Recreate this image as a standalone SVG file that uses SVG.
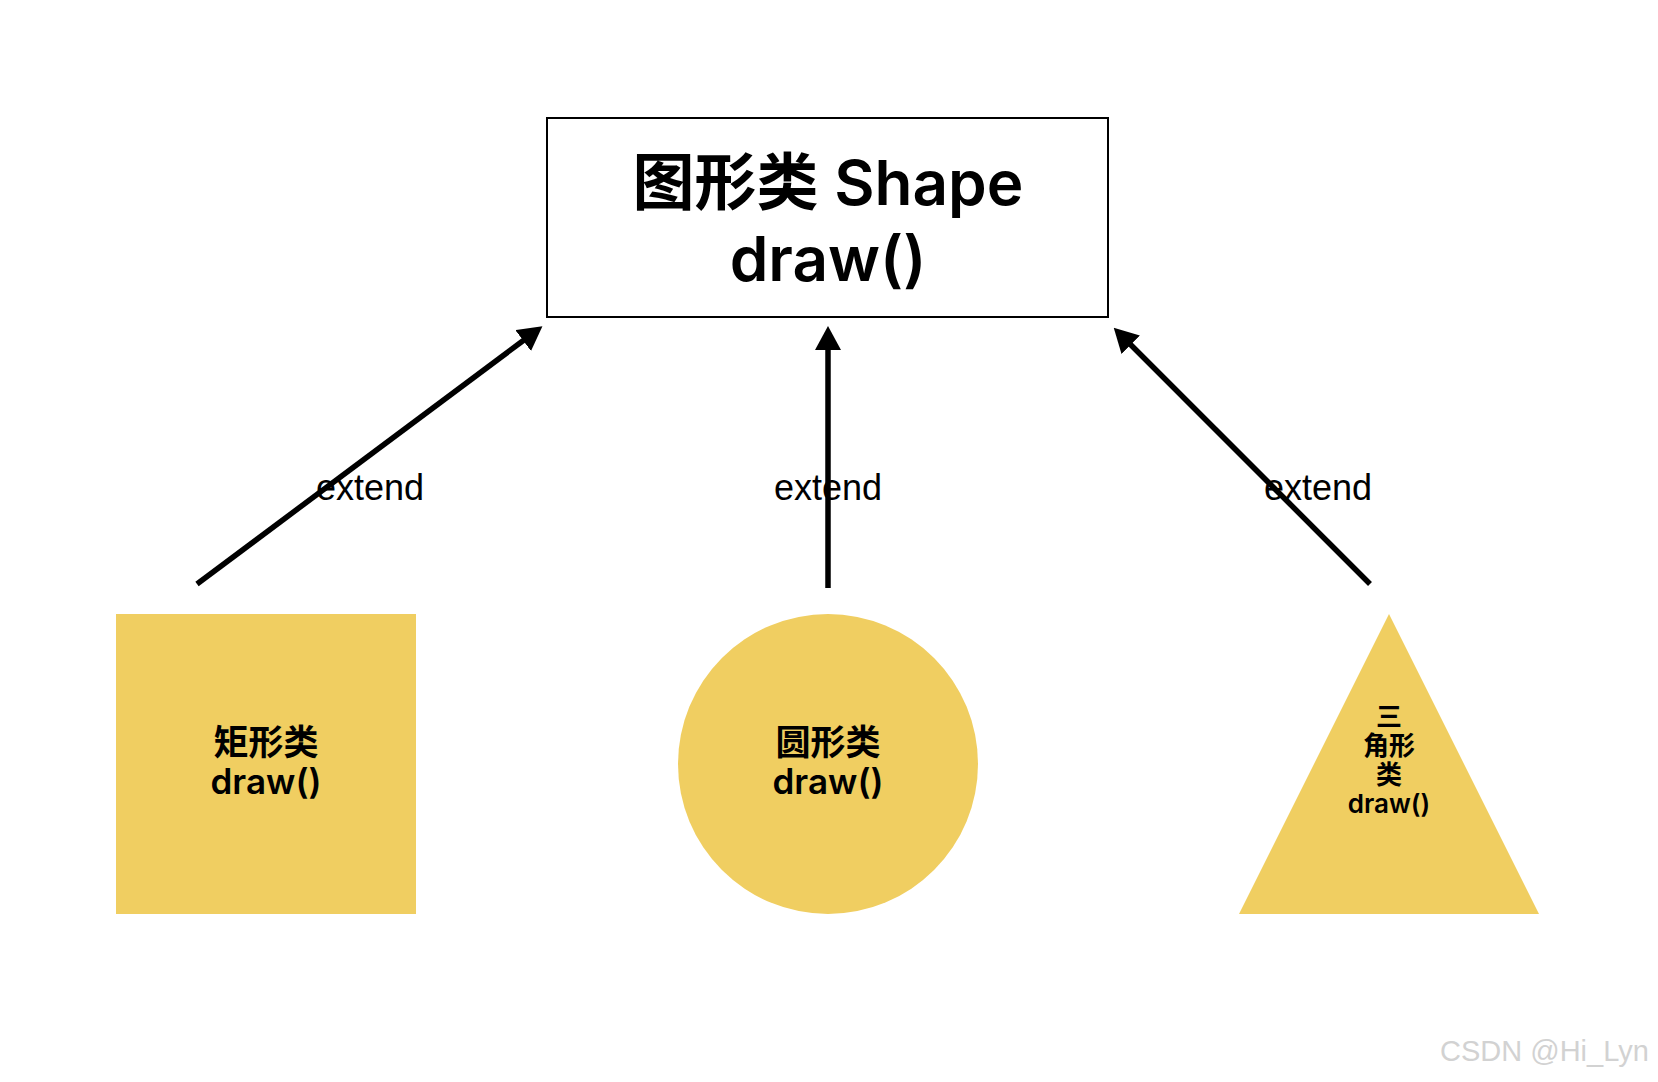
<svg xmlns="http://www.w3.org/2000/svg" width="1658" height="1082" viewBox="0 0 1658 1082">
  <style>
    .title { font-family: Inter, "Noto Sans CJK SC", sans-serif; font-weight: 600; font-size: 62px; fill: #000; text-anchor: middle; }
    .lbl { font-family: Inter, "Noto Sans CJK SC", sans-serif; font-weight: 600; font-size: 35px; fill: #000; text-anchor: middle; }
    .lbls { font-family: Inter, "Noto Sans CJK SC", sans-serif; font-weight: 600; font-size: 26px; fill: #000; text-anchor: middle; }
    .ext { font-family: "Liberation Sans", Arial, sans-serif; font-size: 36px; fill: #000; text-anchor: middle; }
    .shape { fill: #F0CE61; }
    .conn { stroke: #000; stroke-width: 5.5; fill: none; marker-end: url(#arrow); }
    .wm { font-family: "Liberation Sans", Arial, sans-serif; font-size: 29px; fill: #d2d2d2; }
  </style>
  <defs>
    <marker id="arrow" markerUnits="userSpaceOnUse" markerWidth="24" markerHeight="26" viewBox="0 -13 24 26" refX="1" refY="0" orient="auto">
      <path d="M0,-13 L24,0 L0,13 Z" fill="#000"/>
    </marker>
  </defs>
  <rect width="1658" height="1082" fill="#fff"/>

  <g id="shape">
    <rect x="547" y="118" width="561" height="199" fill="#fff" stroke="#000" stroke-width="2"/>
    <text class="title" x="828" y="205">图形类 Shape</text>
    <text class="title" x="828" y="281">draw()</text>
  </g>

  <g id="rectangle">
    <rect class="shape" x="116" y="614" width="300" height="300"/>
    <text class="lbl" x="266" y="755">矩形类</text>
    <text class="lbl" x="266" y="794">draw()</text>
  </g>

  <g id="circle">
    <circle class="shape" cx="828" cy="764" r="150"/>
    <text class="lbl" x="828" y="755">圆形类</text>
    <text class="lbl" x="828" y="794">draw()</text>
  </g>

  <g id="triangle">
    <polygon class="shape" points="1389,614 1539,914 1239,914"/>
    <text class="lbls" x="1389" y="726">三</text>
    <text class="lbls" x="1389" y="755">角形</text>
    <text class="lbls" x="1389" y="784">类</text>
    <text class="lbls" x="1389" y="813">draw()</text>
  </g>

  <g id="connectors">
    <line class="conn" x1="197" y1="584" x2="524" y2="340"/>
    <line class="conn" x1="828" y1="588" x2="828" y2="349"/>
    <line class="conn" x1="1370" y1="584" x2="1130" y2="344"/>
    <text class="ext" x="370" y="500">extend</text>
    <text class="ext" x="828" y="500">extend</text>
    <text class="ext" x="1318" y="500">extend</text>
  </g>

  <text class="wm" x="1440" y="1061">CSDN @Hi_Lyn</text>
</svg>
